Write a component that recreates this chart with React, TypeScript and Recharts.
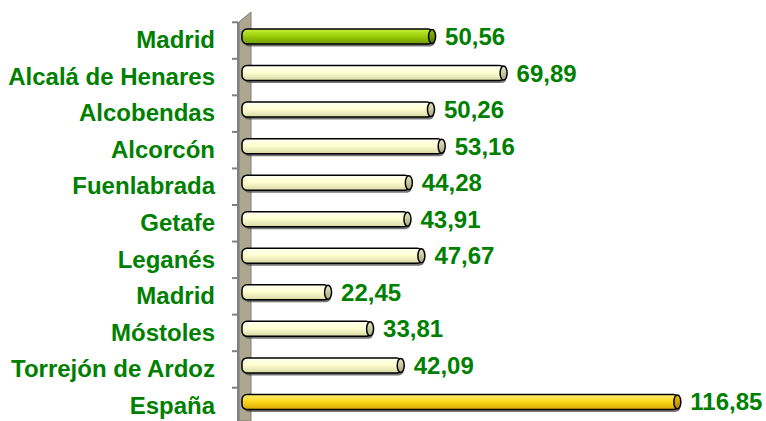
import React from 'react';
import { BarChart, Bar, XAxis, YAxis, LabelList, usePlotArea } from 'recharts';

const cities = [
    'Madrid', 'Alcalá de Henares', 'Alcobendas', 'Alcorcón', 'Fuenlabrada', 'Getafe',
    'Leganés', 'Madrid', 'Móstoles', 'Torrejón de Ardoz', 'España',
];
const values = [50.56, 69.89, 50.26, 53.16, 44.28, 43.91, 47.67, 22.45, 33.81, 42.09, 116.85];
const kinds = ['region', 'city', 'city', 'city', 'city', 'city', 'city', 'city', 'city', 'city', 'country'];

const data = cities.map((name, i) => ({ key: i, name, value: values[i], kind: kinds[i] }));

const GREEN = '#008000';
const FONT = 'Arial, "Liberation Sans", sans-serif';

const fmt = (v: any) => Number(v).toFixed(2).replace('.', ',');

// gradient ids per bar kind
const grads: Record<string, string> = { region: 'gRegion', city: 'gCity', country: 'gCountry' };

const Cylinder = (props: any) => {
    const { x, y, width, height, payload } = props;
    const x0 = x - 4;
    const w = width + 4;
    const r = 5;
    const id = grads[payload.kind] || 'gCity';
    return (
        <g>
            {/* shadow */}
            <rect x={x0 + 2} y={y + 2.5} width={w} height={height} rx={r} fill="#4a4a4a" opacity={0.75} />
            {/* body */}
            <rect x={x0} y={y} width={w} height={height} rx={r} fill={`url(#${id})`} stroke="#000" strokeWidth={1.5} />
            {/* end cap */}
            <ellipse cx={x + width - 1} cy={y + height / 2} rx={3.5} ry={height / 2 - 0.5}
                fill={`url(#${id}Cap)`} stroke="#000" strokeWidth={1.5} />
        </g>
    );
};

const CityTick = (props: any) => {
    const { x, y, payload } = props;
    return (
        <g>
            <line x1={x + 17} x2={x + 23} y1={y - 14} y2={y - 14} stroke="#808080" strokeWidth={2} />
            <text x={x} y={y} dy={12} textAnchor="end" fill={GREEN} fontSize={24} fontWeight="bold" fontFamily={FONT}>
                {payload.value}
            </text>
        </g>
    );
};

// the grey 3D wall behind the category axis
const Wall = () => {
    const area = usePlotArea();
    if (!area) return null;
    const l = area.x;
    const t = area.y;
    const b = area.y + area.height + 1;
    return (
        <g>
            <polygon points={`${l - 7},${t + 4} ${l + 5},${t - 6} ${l + 5},${b} ${l - 7},${b}`}
                fill="#aca78e" stroke="#7a7a7a" strokeWidth={1} />
            <line x1={l - 8} x2={l - 8} y1={t + 4} y2={b} stroke="#808080" strokeWidth={2} />
        </g>
    );
};

const App: React.FC = () => {
    return (
        <div style={{ position: 'absolute', left: 0, top: 0, background: '#fff' }}>
            <BarChart
                width={766}
                height={421}
                data={data}
                layout="vertical"
                margin={{ top: 18, right: 2, left: 0, bottom: 1 }}
                barCategoryGap={0}
            >
                <defs>
                    <linearGradient id="gCity" x1="0" y1="0" x2="0" y2="1">
                        <stop offset="0%" stopColor="#fffff4" />
                        <stop offset="45%" stopColor="#ffffd2" />
                        <stop offset="100%" stopColor="#d9d9a6" />
                    </linearGradient>
                    <linearGradient id="gCityCap" x1="0" y1="0" x2="0" y2="1">
                        <stop offset="0%" stopColor="#e8e8c0" />
                        <stop offset="100%" stopColor="#a8a880" />
                    </linearGradient>
                    <linearGradient id="gRegion" x1="0" y1="0" x2="0" y2="1">
                        <stop offset="0%" stopColor="#c6ef3c" />
                        <stop offset="45%" stopColor="#9ed20a" />
                        <stop offset="100%" stopColor="#6f9a00" />
                    </linearGradient>
                    <linearGradient id="gRegionCap" x1="0" y1="0" x2="0" y2="1">
                        <stop offset="0%" stopColor="#8fbf10" />
                        <stop offset="100%" stopColor="#557700" />
                    </linearGradient>
                    <linearGradient id="gCountry" x1="0" y1="0" x2="0" y2="1">
                        <stop offset="0%" stopColor="#fff07a" />
                        <stop offset="45%" stopColor="#ffd91e" />
                        <stop offset="100%" stopColor="#d9a800" />
                    </linearGradient>
                    <linearGradient id="gCountryCap" x1="0" y1="0" x2="0" y2="1">
                        <stop offset="0%" stopColor="#f2c200" />
                        <stop offset="100%" stopColor="#a87f00" />
                    </linearGradient>
                </defs>
                <Wall />
                <XAxis type="number" domain={[0, 140]} hide />
                <YAxis
                    type="category"
                    dataKey="key"
                    width={246}
                    axisLine={false}
                    tickLine={false}
                    tickSize={0}
                    tickMargin={31}
                    interval={0}
                    tick={(p: any) => <CityTick {...p} payload={{ value: cities[p.payload.value] }} />}
                />
                <Bar dataKey="value" barSize={15} shape={<Cylinder />} isAnimationActive={false}>
                    <LabelList
                        dataKey="value"
                        position="right"
                        offset={12}
                        formatter={fmt}
                        fill={GREEN}
                        fontSize={24}
                        fontWeight="bold"
                        fontFamily={FONT}
                    />
                </Bar>
            </BarChart>
        </div>
    );
};

export default App;
